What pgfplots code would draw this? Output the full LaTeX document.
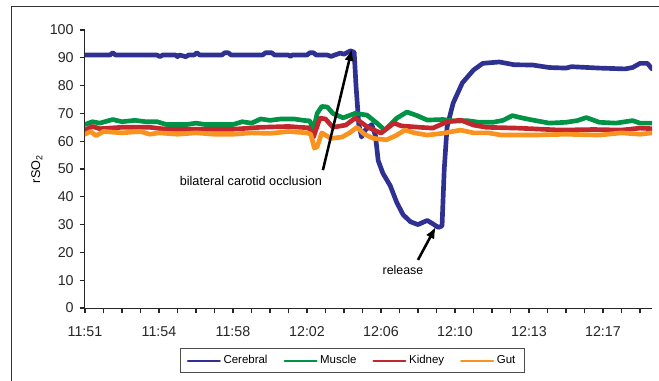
\documentclass[border=0pt]{standalone}
\usepackage{fontspec}
\setmainfont{Liberation Sans}
\usepackage{pgfplots}
\pgfplotsset{compat=1.18}
\usetikzlibrary{arrows.meta}
\definecolor{cerebral}{HTML}{2E3192}
\definecolor{muscle}{HTML}{009245}
\definecolor{kidney}{HTML}{C1272D}
\definecolor{gut}{HTML}{F7931E}
\begin{document}
\begin{tikzpicture}
\useasboundingbox (-63.75pt,-54.75pt) rectangle (430.5pt,231pt);
\draw[line width=0.75pt, black!80] (-54.75pt,-60pt) -- (-54.75pt,225.75pt) -- (440pt,225.75pt);
\begin{axis}[
  at={(0pt,0pt)}, anchor=south west,
  scale only axis, width=425.25pt, height=208.5pt,
  xmin=0, xmax=30.65, ymin=0, ymax=100,
  axis x line=bottom, axis y line=left,
  axis line style={-, line width=0.75pt, black!85},
  xtick={0,1,...,30},
  xticklabels={11:51,,,,11:54,,,,11:58,,,,12:02,,,,12:06,,,,12:10,,,,12:13,,,,12:17,,},
  ytick={0,10,...,100},
  xtick align=outside, ytick align=outside,
  major tick length=4pt,
  every major tick/.append style={line width=0.8pt, draw=black!85},
  every tick label/.append style={font=\fontsize{10.7}{12}\selectfont, text=black!85},
  xticklabel style={yshift=-6.5pt},
  yticklabel style={xshift=-1pt},
  /pgf/number format/assume math mode=true,
  ylabel={rSO\textsubscript{2}},
  every axis y label/.style={at={(axis description cs:-0.085,0.5)}, rotate=90, anchor=center, font=\fontsize{9.5}{11}\selectfont},
  legend columns=4,
  legend style={at={(axis description cs:0.4717,-0.189)}, anchor=center, draw=black!70, line width=0.75pt,
    font=\fontsize{8.6}{10}\selectfont, inner xsep=5pt, inner ysep=3pt,
    /tikz/every even column/.append style={column sep=10pt}},
  legend image code/.code={\draw[line width=1.5pt] (0pt,0pt) -- (24pt,0pt);},
  no markers,
  every axis plot/.append style={line width=3.5pt, line join=round, line cap=round},
]
\addplot[cerebral] table {
t v
0 91
1.35 91
1.5 91.8
1.65 91
3.9 91
4.05 90.4
4.2 91
4.9 91
5.0 90.4
5.1 91
5.45 90.4
5.6 91
5.9 91
6.05 91.8
6.2 91
7.4 91
7.55 91.8
7.75 91.8
7.9 91
9.6 91
9.75 91.8
10.1 91.8
10.25 91
11.0 91
11.1 90.5
11.2 91
12.0 91
12.15 91.8
12.35 91.8
12.5 91
13.1 91
13.3 90.5
13.5 91
13.8 91.7
14.0 91.3
14.35 92.5
14.55 92
14.65 80
14.8 66
14.95 61.5
15.15 64
15.5 66
15.7 62
15.85 53
16.1 48.5
16.5 44
16.85 38
17.2 33.5
17.6 31
18.0 30
18.5 31.5
18.75 30.5
19.1 29
19.3 29.5
19.42 50
19.57 65
19.9 73.7
20.4 81
21.0 85.6
21.5 88
22.4 88.5
23.2 87.5
24.2 87.4
25.1 86.5
26.0 86.3
26.3 86.8
27.8 86.3
29.2 86
29.6 86.5
30.0 88
30.4 88
30.65 86
};
\addlegendentry{Cerebral}
\addplot[muscle] table {
t v
0 66
0.4 67
0.8 66.5
1.5 67.8
2.0 67
2.7 67.5
3.3 67
3.9 67
4.4 66
5.5 66
6.0 66.5
6.5 66
8.0 66
8.5 67
9.0 66.5
9.5 68
10.0 67.5
10.6 68
11.3 68
11.8 67.5
12.15 67.3
12.35 64
12.55 70
12.8 72.5
13.1 72.3
13.4 70
13.95 68.4
14.6 70
15.24 69.4
15.78 66.5
16.2 64
16.86 68.3
17.4 70.5
17.95 69.2
18.5 67.6
19.35 67.8
20.0 67.2
20.65 67.4
21.3 66.8
22.05 66.8
22.6 67.5
23.1 69.2
23.6 68.4
24.2 67.6
25.1 66.5
26.0 66.8
26.6 67.4
27.1 68.5
27.8 66.8
28.7 66.5
29.6 67.4
30.0 66.5
30.65 66.5
};
\addlegendentry{Muscle}
\addplot[kidney] table {
t v
0 64
0.4 65.3
0.8 64.5
2.0 65
3.5 65
4.4 64.3
6.0 64.3
8.0 64.3
9.5 65
11.0 65.3
12.1 64.8
12.35 61.5
12.7 68.3
13.0 68
13.4 65
14.1 65.8
14.6 68.3
15.3 65
16.0 62.9
16.7 66.5
17.1 65.5
18.1 65
18.8 64.7
19.55 66.9
20.3 67.6
21.0 65.8
21.7 65
23.4 64.7
25.7 64
27.5 64.2
29.0 64
30.0 64.7
30.65 64.5
};
\addlegendentry{Kidney}
\addplot[gut] table {
t v
0 62.5
0.3 63.5
0.6 62
1.0 63.5
2.0 63
3.0 63.5
3.5 62.5
4.0 63
5.0 62.5
6.0 63
7.0 62.5
8.0 62.5
9.0 63
10.0 62.8
11.0 63.5
12.0 63
12.2 62.5
12.4 57.5
12.55 58
12.8 63
13.3 61
13.9 61.5
14.3 63
14.7 65
15.1 62.5
15.6 61
16.3 60.5
16.8 62
17.3 64
17.8 63
18.5 62.2
19.3 62.8
20.3 64
21.0 63
21.8 63
22.5 62.2
24.2 62.2
26.0 62.5
27.8 62.2
29.0 63
30.0 62.5
30.65 63
};
\addlegendentry{Gut}
\draw[line width=1.9pt, -{Latex[length=9pt,width=7pt]}] (axis cs:12.86,49.6) -- (axis cs:14.43,93.2);
\draw[line width=1.9pt, -{Latex[length=9pt,width=7pt]}] (axis cs:18.0,17.3) -- (axis cs:18.97,29.3);
\node[font=\fontsize{9.5}{11}\selectfont] at (axis cs:8.97,45.7) {bilateral carotid occlusion};
\node[font=\fontsize{9.3}{11}\selectfont] at (axis cs:17.19,13.7) {release};
\end{axis}
\end{tikzpicture}
\end{document}
